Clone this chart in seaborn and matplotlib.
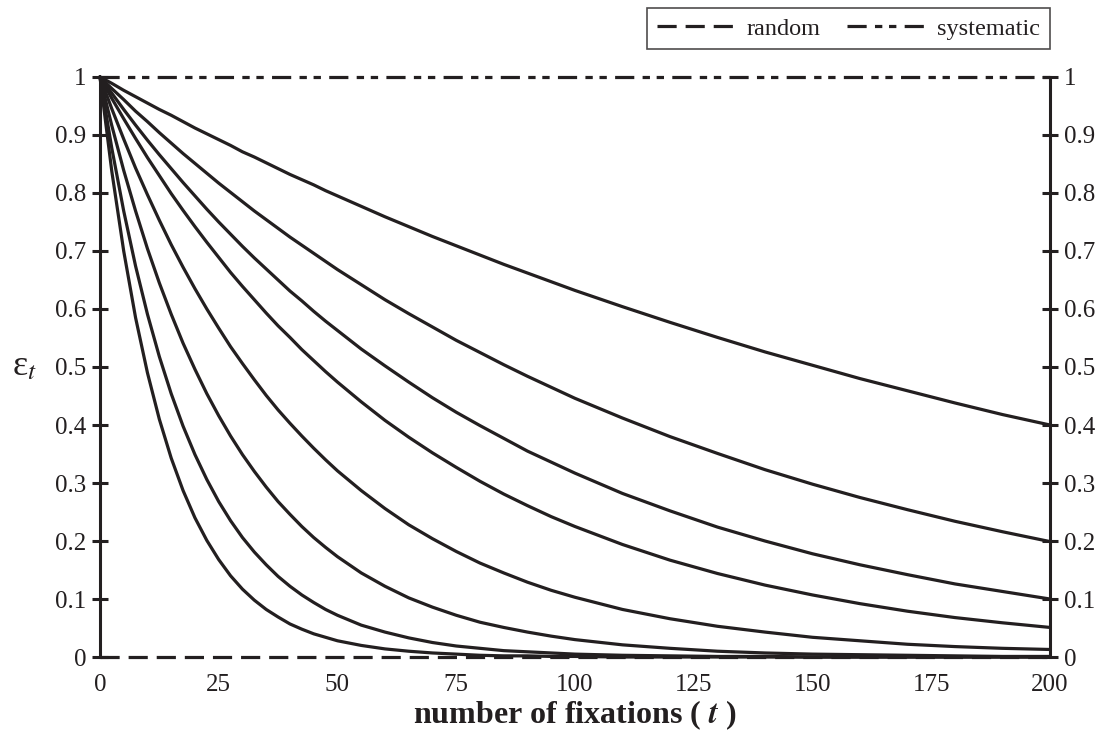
import pandas as pd
import seaborn as sns
import matplotlib.pyplot as plt

t = [0, 2.5, 5, 7.5, 10, 12.5, 15, 17.5, 20,
     22.5, 25, 27.5, 30, 32.5, 35, 37.5, 40, 42.5, 45, 47.5, 50,
     55, 60, 65, 70, 75, 80, 85, 90, 95, 100,
     110, 120, 130, 140, 150, 160, 170, 180, 190, 200]

# error values (epsilon_t) for the eight curves, slowest to fastest decay
eps_1 = [1, .989, .977, .966, .955, .944, .934, .923, .912,
         .902, .892, .882, .871, .862, .852, .842, .832, .823, .814, .804, .795,
         .777, .759, .742, .725, .709, .693, .677, .662, .647, .632,
         .604, .577, .551, .526, .503, .480, .459, .438, .418, .400]
eps_2 = [1, .980, .961, .941, .923, .904, .886, .868, .851,
         .834, .817, .801, .785, .769, .754, .739, .724, .710, .696, .682, .668,
         .642, .616, .592, .569, .546, .525, .504, .484, .465, .446,
         .412, .380, .351, .323, .298, .275, .254, .234, .216, .199]
eps_3 = [1, .972, .944, .917, .891, .866, .842, .818, .795,
         .772, .750, .729, .708, .688, .669, .650, .631, .614, .596, .579, .563,
         .531, .502, .474, .447, .422, .399, .377, .355, .336, .317,
         .282, .252, .224, .200, .178, .159, .142, .126, .113, .100]
eps_4 = [1, .963, .928, .894, .861, .830, .799, .770, .742,
         .715, .689, .663, .639, .616, .593, .571, .551, .530, .511, .492, .474,
         .440, .408, .379, .352, .327, .303, .281, .261, .242, .225,
         .194, .167, .144, .124, .107, .092, .079, .068, .059, .051]
eps_5 = [1, .945, .893, .843, .797, .753, .711, .672, .635,
         .600, .567, .535, .506, .478, .451, .426, .403, .381, .360, .340, .321,
         .287, .256, .228, .204, .182, .162, .145, .129, .115, .103,
         .082, .066, .053, .043, .034, .028, .022, .018, .015, .013]
eps_6 = [1, .916, .839, .769, .704, .645, .591, .541, .496,
         .454, .416, .381, .349, .320, .293, .268, .246, .225, .206, .189, .173,
         .145, .122, .102, .086, .072, .060, .051, .043, .036, .030,
         .021, .015, .010, .007, .005, .004, .003, .002, .001, .001]
eps_7 = [1, .877, .769, .674, .591, .518, .454, .398, .349,
         .306, .268, .235, .206, .181, .159, .139, .122, .107, .094, .082, .072,
         .055, .043, .033, .025, .019, .015, .011, .009, .007, .005,
         .003, .002, .001, .001, 0, 0, 0, 0, 0, 0]
eps_8 = [1, .837, .700, .585, .490, .410, .343, .287, .240,
         .201, .168, .140, .117, .098, .082, .069, .057, .048, .040, .034, .028,
         .020, .014, .010, .007, .005, .003, .002, .002, .001, .001,
         0, 0, 0, 0, 0, 0, 0, 0, 0, 0]

# the two reference levels shown in the legend
ref_t = [0, 200]
random_eps = [0, 0]
systematic_eps = [1, 1]

x_ticks = [0, 25, 50, 75, 100, 125, 150, 175, 200]
y_ticks = [0, 0.1, 0.2, 0.3, 0.4, 0.5, 0.6, 0.7, 0.8, 0.9, 1]
y_tick_labels = ["0", "0.1", "0.2", "0.3", "0.4", "0.5", "0.6", "0.7", "0.8", "0.9", "1"]

curves = [eps_1, eps_2, eps_3, eps_4, eps_5, eps_6, eps_7, eps_8]
rows = []
for i, eps in enumerate(curves):
    for ti, e in zip(t, eps):
        rows.append({"t": ti, "eps": e, "curve": f"c{i + 1}"})
df = pd.DataFrame(rows)

sns.set_theme(style="white")
plt.rcParams["font.family"] = ["Liberation Serif", "DejaVu Serif"]
plt.rcParams["mathtext.fontset"] = "stix"

ink = "#231f20"
fig = plt.figure(figsize=(11.13, 7.31), dpi=100)
ax = fig.add_axes([0.0898, 0.1012, 0.8536, 0.7935])

sns.lineplot(data=df, x="t", y="eps", hue="curve", palette=[ink] * 8,
             estimator=None, linewidth=2.3, legend=False, ax=ax)

sns.lineplot(x=ref_t, y=random_eps, color=ink, linewidth=2.3, ax=ax)
random_line = ax.lines[-1]
random_line.set_dashes([6, 2.8])
sns.lineplot(x=ref_t, y=systematic_eps, color=ink, linewidth=2.3, ax=ax)
systematic_line = ax.lines[-1]
systematic_line.set_dashes([6, 2.6, 2.3, 2.1, 2.3, 2.6])
for ln in ax.lines:
    ln.set_clip_on(False)

ax.set_xlim(0, 200)
ax.set_ylim(0, 1)
ax.set_xticks(x_ticks)
ax.set_yticks(y_ticks)
ax.set_yticklabels(y_tick_labels)

for side in ["top", "bottom"]:
    ax.spines[side].set_visible(False)
for side in ["left", "right"]:
    ax.spines[side].set_visible(True)
    ax.spines[side].set_linewidth(2.2)
    ax.spines[side].set_color(ink)

ax.tick_params(axis="y", direction="inout", length=12, width=2.2, color=ink,
               left=True, right=True, labelleft=True, labelright=True,
               labelsize=18, labelcolor=ink, pad=4)
ax.tick_params(axis="x", length=0, labelsize=18, labelcolor=ink, pad=12)

ax.set_xlabel(r"number of fixations ( $\boldsymbol{t}$ )", fontsize=23,
              fontweight="bold", color=ink, labelpad=2)
ax.set_ylabel(r"ε$_{t}$", fontsize=26, rotation=0, color=ink,
              labelpad=22, va="center")

leg = ax.legend([random_line, systematic_line], ["random", "systematic"], ncol=2,
                loc="upper right", bbox_to_anchor=(1.0, 1.119), borderaxespad=0,
                frameon=True, fancybox=False, edgecolor=ink, fontsize=17.5,
                handlelength=3.3, handletextpad=0.4, columnspacing=1.1,
                borderpad=0.4)
leg.get_frame().set_linewidth(1.2)
for txt in leg.get_texts():
    txt.set_color(ink)

plt.savefig("out.png", dpi=100)
